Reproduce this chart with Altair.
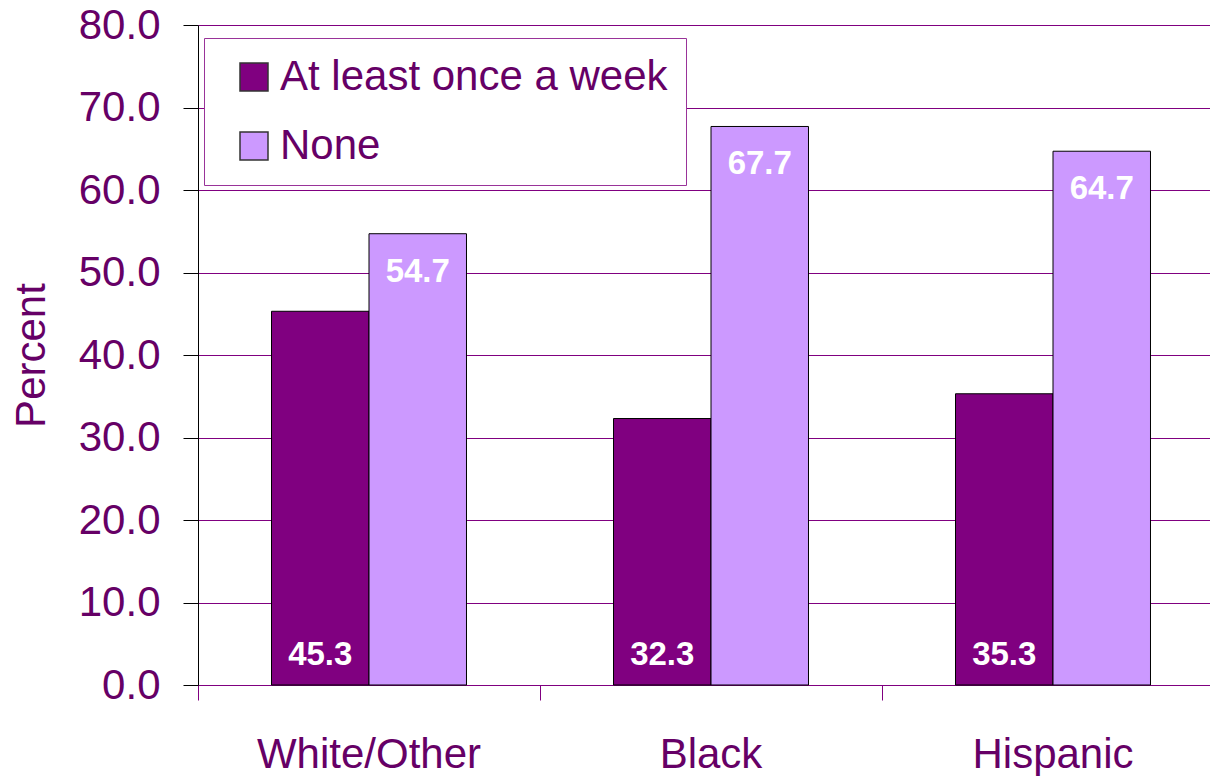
import altair as alt
import pandas as pd

categories = ["White/Other", "Black", "Hispanic"]
series = ["At least once a week", "None"]
weekly = [45.3, 32.3, 35.3]
none_vals = [54.7, 67.7, 64.7]

rows = []
for c, w, n in zip(categories, weekly, none_vals):
    rows.append({"group": c, "series": series[0], "value": w, "label": f"{w:.1f}"})
    rows.append({"group": c, "series": series[1], "value": n, "label": f"{n:.1f}"})
df = pd.DataFrame(rows)

FONT = "Liberation Sans"
TXT = "#660066"
DARK = "#800080"
LIGHT = "#CC99FF"

x_enc = alt.X("group:N", sort=categories, title=None,
              scale=alt.Scale(range=[0, 1026], paddingInner=0, paddingOuter=0),
              axis=alt.Axis(bandPosition=0, labelAngle=0,
                            tickSize=15, tickColor=DARK, domainColor=DARK,
                            labelPadding=34, labelFontSize=42, labelColor=TXT,
                            labelFont=FONT, labelBaseline="top", grid=False,
                            labelLimit=500))
xo_enc = alt.XOffset("series:N", sort=series,
                     scale=alt.Scale(paddingInner=0, paddingOuter=0.754))

base = alt.Chart(df)

bars = base.mark_bar(stroke="black", strokeWidth=1).encode(
    x=x_enc,
    xOffset=xo_enc,
    y=alt.Y("value:Q", scale=alt.Scale(domain=[0, 80]), title="Percent",
            axis=alt.Axis(values=list(range(0, 81, 10)), format=".1f",
                          tickSize=15, tickColor="black", domainColor="black",
                          labelPadding=23, labelFontSize=42, labelColor=TXT,
                          labelFont=FONT, titleFontSize=42, titleColor=TXT,
                          titleFont=FONT, titleFontWeight="normal",
                          titlePadding=25, grid=True, gridColor=DARK,
                          gridWidth=1)),
    color=alt.Color("series:N", sort=series,
                    scale=alt.Scale(domain=series, range=[DARK, LIGHT]),
                    legend=alt.Legend(title=None, orient="none", legendX=6,
                                      legendY=13, strokeColor="#993399",
                                      fillColor="white", padding=18,
                                      symbolOffset=11, symbolType="square",
                                      symbolSize=784, symbolStrokeColor="#333333",
                                      symbolStrokeWidth=1.5, labelFontSize=42,
                                      labelColor=TXT, labelFont=FONT,
                                      labelOffset=5, rowPadding=27,
                                      labelLimit=600)),
)

low_text = base.transform_filter(alt.datum.series == series[0]).mark_text(
    color="white", fontWeight="bold", fontSize=33, font=FONT,
    baseline="alphabetic", dy=-20
).encode(x=x_enc, xOffset=xo_enc, y=alt.datum(0), text="label:N")

top_text = base.transform_filter(alt.datum.series == series[1]).mark_text(
    color="white", fontWeight="bold", fontSize=33, font=FONT,
    baseline="alphabetic", dy=48
).encode(x=x_enc, xOffset=xo_enc, y="value:Q", text="label:N")

chart = alt.layer(bars, low_text, top_text).properties(
    width=1012, height=660,
    autosize=alt.AutoSizeParams(type="none"),
    padding={"left": 198, "top": 25, "right": 0, "bottom": 91},
).configure_view(stroke=None).configure(background="white")

chart.save("out.html", embed_options={"renderer": "svg", "actions": False})
